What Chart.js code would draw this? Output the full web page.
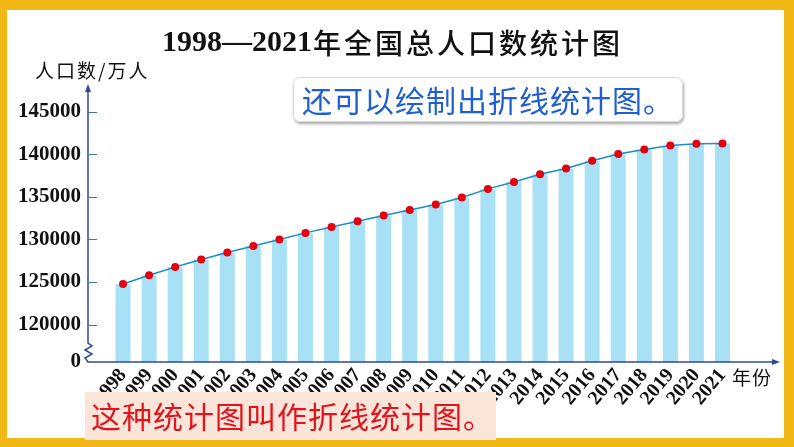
<!DOCTYPE html>
<html>
<head>
<meta charset="utf-8">
<script src="https://cdn.jsdelivr.net/npm/chart.js@4.4.0/dist/chart.umd.min.js"></script>
<style>
  body { margin: 0; background: #fff; }
  canvas { display: block; }
</style>
</head>
<body>
<canvas id="myChart" width="794" height="447"></canvas>
<script>
// data (万人)
const years = ["1998", "1999", "2000", "2001", "2002", "2003", "2004", "2005", "2006", "2007", "2008", "2009",
  "2010", "2011", "2012", "2013", "2014", "2015", "2016", "2017", "2018", "2019", "2020", "2021"];
const population = [124761, 125786, 126743, 127627, 128453, 129227, 129988, 130756, 131448, 132129, 132802, 133450,
  134091, 134916, 135922, 136726, 137646, 138326, 139232, 140011, 140541, 141008, 141212, 141260];
const yTicks = [120000, 125000, 130000, 135000, 140000, 145000];

const yMin = 115600; // axis is broken, bottom is shown as 0
const yMax = 148000;

const serif = "'Liberation Serif', 'Noto Sans CJK SC'";
const cjk = "'Noto Sans CJK SC'";

const decor = {
  id: "decor",
  beforeDraw(chart) {
    const c = chart.ctx;
    c.save();
    c.fillStyle = "#fff";
    c.fillRect(0, 0, chart.width, chart.height);
    c.restore();
  },
  afterDraw(chart) {
    const c = chart.ctx;
    const ys = chart.scales.y;
    const area = chart.chartArea;
    const ax = area.left - 22;
    const base = area.bottom;
    const axisColor = "#2d4c90";

    c.save();
    // axes with the break
    c.strokeStyle = axisColor;
    c.lineWidth = 1.5;
    c.beginPath();
    c.moveTo(ax, 88);
    c.lineTo(ax, base - 19);
    c.lineTo(ax + 4, base - 16);
    c.lineTo(ax - 3, base - 12);
    c.lineTo(ax + 4, base - 8);
    c.lineTo(ax - 3, base - 4);
    c.lineTo(ax, base);
    c.lineTo(776, base);
    c.stroke();

    // arrow heads
    c.fillStyle = axisColor;
    c.beginPath();
    c.moveTo(ax, 84); c.lineTo(ax - 3, 92); c.lineTo(ax + 3, 92); c.closePath();
    c.fill();
    c.beginPath();
    c.moveTo(780, base); c.lineTo(772, base - 3); c.lineTo(772, base + 3); c.closePath();
    c.fill();

    // tick marks
    c.strokeStyle = "#4a6db3";
    c.lineWidth = 1.2;
    c.beginPath();
    yTicks.forEach(v => {
      const p = Math.round(ys.getPixelForValue(v)) + 0.5;
      c.moveTo(ax, p);
      c.lineTo(ax + 9, p);
    });
    c.stroke();

    // title
    c.textBaseline = "middle";
    c.fillStyle = "#111";
    const t1 = "1998—2021";
    const t2 = "年全国总人口数统计图";
    c.font = "bold 30px " + serif;
    const w1 = c.measureText(t1).width;
    c.font = "500 28px " + cjk;
    c.letterSpacing = "3px";
    const w2 = c.measureText(t2).width;
    const tx = 392 - (w1 + w2) / 2;
    c.letterSpacing = "0px";
    c.font = "bold 30px " + serif;
    c.textAlign = "left";
    c.fillText(t1, tx, 43);
    c.font = "500 28px " + cjk;
    c.letterSpacing = "3px";
    c.fillText(t2, tx + w1 + 1, 43);

    // unit labels
    c.font = "19px " + cjk;
    c.letterSpacing = "2px";
    c.fillText("人口数/万人", 35, 71);
    c.letterSpacing = "1px";
    c.fillText("年份", 732, 378);

    // callout box
    c.letterSpacing = "0px";
    c.save();
    c.shadowColor = "rgba(0,0,0,0.35)";
    c.shadowBlur = 3;
    c.shadowOffsetX = 1;
    c.shadowOffsetY = 2;
    c.fillStyle = "#fff";
    c.beginPath();
    c.roundRect(293, 77, 390, 45, 7);
    c.fill();
    c.restore();
    c.strokeStyle = "#d8d8d8";
    c.lineWidth = 1;
    c.beginPath();
    c.roundRect(293.5, 77.5, 389, 44, 7);
    c.stroke();
    c.fillStyle = "#1f5fd1";
    c.font = "30px " + cjk;
    c.letterSpacing = "1px";
    c.fillText("还可以绘制出折线统计图。", 302, 101);

    // yellow frame
    c.letterSpacing = "0px";
    c.fillStyle = "#f1b815";
    c.fillRect(0, 0, 794, 10);
    c.fillRect(0, 0, 7, 447);
    c.fillRect(784, 0, 10, 447);
    c.fillRect(0, 438, 794, 9);

    // bottom note
    c.fillStyle = "#fbe4d8";
    c.fillRect(85, 392, 411, 48);
    c.fillStyle = "#e0141e";
    c.font = "30px " + cjk;
    c.letterSpacing = "1px";
    c.fillText("这种统计图叫作折线统计图。", 91, 417);
    c.restore();
  }
};

new Chart(document.getElementById("myChart"), {
  data: {
    labels: years,
    datasets: [
      {
        type: "line",
        data: population,
        order: 0,
        borderColor: "#1b8fc2",
        borderWidth: 1.5,
        pointRadius: 4,
        pointBackgroundColor: "#e3000f",
        pointBorderWidth: 0,
        tension: 0
      },
      {
        type: "bar",
        data: population,
        order: 1,
        backgroundColor: "#a8e1f6",
        barPercentage: 0.575,
        categoryPercentage: 1
      }
    ]
  },
  options: {
    responsive: false,
    devicePixelRatio: 1,
    animation: false,
    layout: { padding: { top: 86, left: 0, right: 58.5, bottom: 0 } },
    plugins: {
      legend: { display: false },
      tooltip: { enabled: false }
    },
    scales: {
      x: {
        offset: true,
        grid: { display: false, drawTicks: false },
        border: { display: false },
        ticks: {
          autoSkip: false,
          minRotation: 50,
          maxRotation: 50,
          padding: 2,
          color: "#111",
          font: { family: serif, size: 20, weight: "bold" }
        },
        afterFit: s => { s.height = 85; }
      },
      y: {
        min: yMin,
        max: yMax,
        grid: { display: false, drawTicks: false },
        border: { display: false },
        afterBuildTicks: s => {
          s.ticks = [yMin].concat(yTicks).map(v => ({ value: v }));
        },
        afterFit: s => { s.width = 110; },
        ticks: {
          padding: 29,
          color: "#111",
          font: { family: serif, size: 21, weight: "bold" },
          callback: v => (v === yMin ? "0" : String(v))
        }
      }
    }
  },
  plugins: [decor]
});
</script>
</body>
</html>
